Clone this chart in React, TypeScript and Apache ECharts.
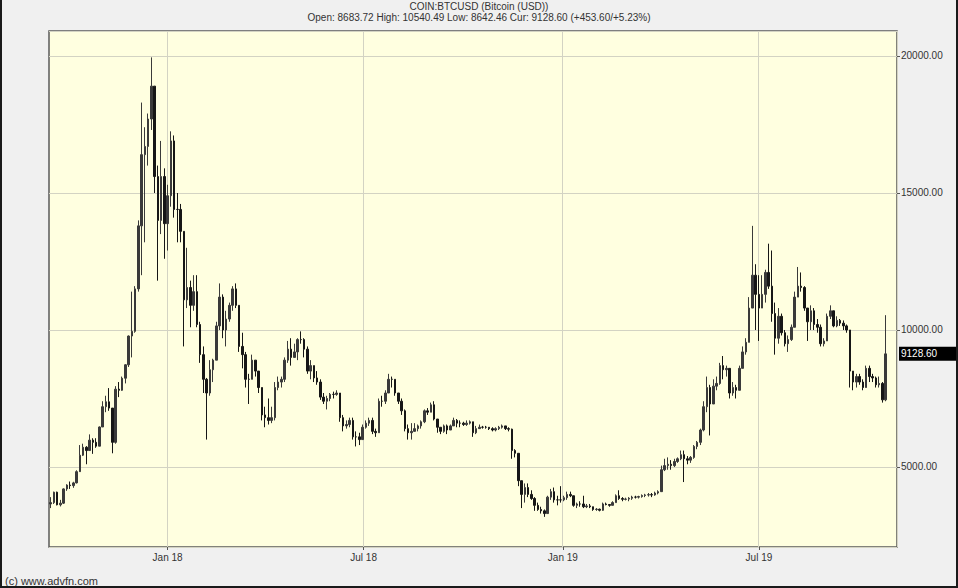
import React, { useEffect, useRef } from "react";
import * as echarts from "echarts";

// ---- data -------------------------------------------------------------
const START_DATE = "2017-09-14";
const END_DATE = "2019-11-05";
const FIRST_BAR_DATE = "2017-09-15";
const BAR_STEP_DAYS = 3;
const FIRST_OPEN = 3650;

// 3-day bars: [low, high, close]
const bars2017: number[][] = [
  [3500, 3900, 3700], [3650, 4100, 4080], [3600, 4100, 3620], [3560, 3800, 3680], [3650, 4220, 4200], [4130, 4370, 4340],
  [4200, 4470, 4320], [4240, 4460, 4420], [4400, 4880, 4830], [4820, 5800, 5430], [5400, 5850, 5720], [5100, 5760, 5600], [5600, 6190, 5980], [5480, 6050, 5900], [5700, 6050, 5760], [6080, 6480, 6460],
  [6600, 7400, 7200], [7000, 7600, 7380], [7050, 7880, 7150], [5500, 7150, 5900], [5850, 7950, 7840], [7550, 8100, 7800], [7780, 8300, 8240], [8050, 8750, 8730], [8650, 9800, 9780], [9000, 11400, 9950],
  [9900, 11600, 11500], [11400, 14000, 13800], [12000, 18300, 16400], [13200, 17400, 16700], [16000, 17900, 17700], [17300, 19950, 18900], [15000, 18900, 15600], [11800, 16000, 14000], [13500, 16900, 15600], [12600, 15900, 13880],
];

const bars2018: number[][] = [
  [12900, 15300, 14900], [14500, 17250, 16900], [14100, 17100, 14400], [13200, 15000, 14400], [13200, 14600, 13600], [9400, 13600, 11100], [10800, 13000, 11550], [10100, 11800, 10900], [10700, 12000, 11400], [10100, 12000, 10200], [8800, 10300, 9100],
  [7700, 9400, 8200], [6000, 8250, 7700], [7600, 8900, 8550], [8100, 8950, 8900], [9100, 10300, 10150], [10000, 11700, 11200], [9700, 11300, 10000], [9400, 10700, 10400], [10300, 11000, 10900],
  [10700, 11600, 11500], [10800, 11700, 10900], [9200, 10900, 9400], [8600, 9900, 9100], [7900, 9200, 8200], [7300, 8400, 8200], [8200, 9100, 8900], [8300, 8900, 8500], [7700, 8500, 7900], [6700, 7700, 6900],
  [6450, 7200, 6800], [6550, 7500, 6700], [6600, 7200, 6800], [6700, 8100, 7900], [7800, 8300, 8100], [7900, 8300, 8200], [8100, 9000, 8900], [8800, 9600, 9300], [8700, 9700, 9000], [9100, 9500, 9200],
  [8900, 9700, 9650], [9500, 9950, 9650], [9000, 9700, 9300], [8400, 9400, 8500], [8200, 8900, 8700], [8100, 8500, 8250], [8000, 8500, 8100], [7450, 8200, 7550], [7300, 7700, 7400], [7100, 7600, 7500], [7400, 7700, 7650],
  [7500, 7750, 7650], [7600, 7800, 7700], [6650, 7700, 6800], [6300, 6900, 6500], [6400, 6700, 6550], [6450, 6800, 6700], [6000, 6800, 6100], [5750, 6300, 6100], [5800, 6250, 6000], [6200, 6550, 6450],
  [6400, 6700, 6600], [6500, 6800, 6700], [6200, 6800, 6300], [6100, 6400, 6250], [6300, 7500, 7400], [7200, 7600, 7400], [7300, 7800, 7700], [7750, 8400, 8200], [7900, 8300, 8200], [7600, 8200, 7700],
  [7300, 7700, 7400], [6900, 7500, 7050], [6300, 7100, 6400], [6000, 6550, 6250], [6000, 6600, 6300], [6300, 6600, 6400], [6300, 6550, 6500], [6400, 6700, 6650], [6600, 7100, 7050], [6900, 7150, 7000],
  [7000, 7350, 7270], [6700, 7400, 6750], [6250, 6700, 6450], [6200, 6450, 6300], [6250, 6550, 6500], [6200, 6550, 6350], [6350, 6550, 6500], [6500, 6800, 6700], [6450, 6750, 6600], [6450, 6700, 6600],
  [6500, 6650, 6550], [6500, 6700, 6600], [6550, 6700, 6650], [6100, 6650, 6250], [6200, 6500, 6400], [6400, 6550, 6450], [6400, 6500, 6450], [6400, 6500, 6450], [6350, 6450, 6400], [6300, 6450, 6350], [6300, 6450, 6400],
  [6350, 6500, 6450], [6400, 6550, 6500], [6350, 6500, 6400], [6300, 6450, 6380], [5300, 6400, 5600], [5350, 5650, 5500], [4300, 5500, 4500], [3500, 4500, 4000], [3700, 4400, 4250], [3900, 4400, 4000],
  [3800, 4150, 3850], [3400, 3900, 3600], [3400, 3700, 3450], [3300, 3550, 3400], [3180, 3450, 3300], [3350, 3950, 3900], [3800, 4200, 4100], [3700, 4250, 3800], [3600, 3950, 3800], [3700, 4300, 3800],
];

const bars2019: number[][] = [
  [3750, 3950, 3880], [3800, 4100, 4000], [3900, 4100, 3950], [3550, 3950, 3600], [3500, 3700, 3650], [3550, 3750, 3650], [3500, 3950, 3550], [3500, 3650, 3580], [3500, 3650, 3550], [3400, 3550, 3450],
  [3400, 3500, 3460], [3380, 3480, 3420], [3400, 3700, 3650], [3600, 3700, 3630], [3550, 3650, 3600], [3600, 3750, 3700], [3700, 4000, 3950], [3800, 4150, 3850], [3750, 3900, 3820], [3780, 3880, 3830],
  [3750, 3900, 3860], [3800, 3950, 3900], [3850, 3950, 3900], [3850, 3950, 3920], [3880, 4000, 3960], [3900, 4020, 3980], [3920, 4050, 3990], [3900, 4050, 3980], [3950, 4100, 4050], [4000, 4150, 4100],
  [4100, 5050, 4900], [4850, 5300, 5050], [4900, 5350, 5100], [4900, 5250, 5050], [5000, 5300, 5200], [5150, 5350, 5300], [5250, 5600, 5450], [4450, 5600, 5300], [5100, 5400, 5250], [5150, 5400, 5350],
  [5300, 5800, 5750], [5650, 5950, 5900], [5800, 6400, 6350], [6300, 7400, 7200], [7000, 8300, 7900], [6150, 8000, 7300], [7500, 8200, 7950], [7800, 8300, 8050], [8000, 8800, 8700], [8200, 9050, 8550],
  [8300, 8700, 8600], [7500, 8200, 7700], [7600, 8100, 7900], [7500, 8000, 7800], [8000, 8700, 8600], [8600, 9400, 9200], [9100, 9700, 9550], [9600, 11200, 10800], [10800, 13800, 12000], [10000, 12400, 11300],
  [9600, 12000, 10800], [10800, 12000, 11300], [11000, 12200, 12100], [11500, 13150, 11600], [10300, 12900, 10600], [9100, 11000, 9700], [9500, 10800, 10500], [9800, 10600, 9900], [9400, 10000, 9500], [9200, 9800, 9650], [9600, 10200, 10100],
  [10500, 11400, 11200], [11200, 12300, 11600], [11400, 12100, 11550], [10700, 11600, 10800], [9600, 10700, 10300], [10000, 10900, 10700], [10000, 10800, 10200], [9900, 10400, 10100], [9400, 10200, 9500], [9400, 9700, 9600],
  [9600, 10600, 10500], [10400, 10900, 10700], [10100, 10700, 10150], [10100, 10500, 10350], [10150, 10400, 10250], [10000, 10350, 10150], [9900, 10200, 10000], [7900, 10000, 8500], [7800, 8400, 8100], [7900, 8400, 8300],
  [8000, 8400, 8100], [7800, 8200, 7900], [7900, 8700, 8600], [8100, 8700, 8300], [8100, 8400, 8250], [7900, 8300, 8000], [7900, 8300, 8050], [7350, 8100, 7450], [7400, 10540.49, 9128.6],
];

const TITLE_LINE = "COIN:BTCUSD (Bitcoin (USD))";
const QUOTE_LINE = "Open: 8683.72 High: 10540.49 Low: 8642.46 Cur: 9128.60 (+453.60/+5.23%)";
const LAST_PRICE = 9128.6;
const COPYRIGHT = "(c) www.advfn.com";
const MONTH_NAMES = ["Jan", "Feb", "Mar", "Apr", "May", "Jun", "Jul", "Aug", "Sep", "Oct", "Nov", "Dec"];
const LABEL_MONTH_DAYS = ["-01-01", "-07-01"];
const Y_MIN = 2080;
const Y_MAX = 20912;

// ---- helpers -----------------------------------------------------------
function dayList(start: string, end: string): string[] {
  const out: string[] = [];
  const [sy, sm, sd] = start.split("-").map(Number);
  const [ey, em, ed] = end.split("-").map(Number);
  let t = Date.UTC(sy, sm - 1, sd);
  const te = Date.UTC(ey, em - 1, ed);
  while (t <= te) {
    out.push(new Date(t).toISOString().slice(0, 10));
    t += 86400000;
  }
  return out;
}

const FONT = '"Liberation Sans", Arial, Helvetica, sans-serif';

export default function App() {
  const ref = useRef<HTMLDivElement>(null);

  useEffect(() => {
    if (!ref.current) return;
    const chart = echarts.init(ref.current, undefined, { renderer: "svg" });

    const categories = dayList(START_DATE, END_DATE);
    const firstIdx = categories.indexOf(FIRST_BAR_DATE);
    const allBars = [...bars2017, ...bars2018, ...bars2019];
    const candleData: any[] = categories.map(() => "-");
    let prevClose = FIRST_OPEN;
    allBars.forEach(([lo, hi, cl], k) => {
      const open = prevClose;
      candleData[firstIdx + k * BAR_STEP_DAYS] = [
        open,
        cl,
        Math.min(lo, open, cl),
        Math.max(hi, open, cl),
      ];
      prevClose = cl;
    });

    const isLabelDay = (_i: number, v: string) =>
      LABEL_MONTH_DAYS.some((s) => String(v).endsWith(s));

    const option: any = {
      animation: false,
      backgroundColor: "#F0F0F0",
      textStyle: { fontFamily: FONT },
      title: {
        text: TITLE_LINE,
        subtext: QUOTE_LINE,
        left: "center",
        top: 1,
        padding: 0,
        itemGap: 0,
        textStyle: { fontSize: 10, fontWeight: "normal", color: "#333", fontFamily: FONT, lineHeight: 11 },
        subtextStyle: { fontSize: 10, color: "#333", fontFamily: FONT, lineHeight: 11 },
      },
      grid: {
        left: 49,
        right: 61,
        top: 31,
        bottom: 41,
        show: true,
        backgroundColor: "#FFFFE0",
        borderColor: "#5a5a5a",
        borderWidth: 1.5,
        containLabel: false,
        outerBoundsMode: "none",
      },
      xAxis: {
        type: "category",
        data: categories,
        boundaryGap: true,
        axisLine: { show: false },
        axisTick: {
          show: true,
          interval: isLabelDay,
          alignWithLabel: true,
          length: 3,
          lineStyle: { color: "#555" },
        },
        axisLabel: {
          interval: isLabelDay,
          color: "#333",
          fontSize: 10,
          fontFamily: FONT,
          margin: 5,
          formatter: (v: string) => {
            const m = Number(v.slice(5, 7)) - 1;
            return `${MONTH_NAMES[m]} ${v.slice(2, 4)}`;
          },
        },
        splitLine: {
          show: true,
          interval: isLabelDay,
          lineStyle: { color: "#D3D3C3", width: 1 },
        },
      },
      yAxis: {
        type: "value",
        position: "right",
        min: Y_MIN,
        max: Y_MAX,
        splitNumber: 4,
        axisLine: { show: false },
        axisTick: { show: true, length: 3, lineStyle: { color: "#555" } },
        axisLabel: {
          color: "#333",
          fontSize: 10,
          fontFamily: FONT,
          margin: 4,
          showMinLabel: false,
          showMaxLabel: false,
          formatter: (v: number) => v.toFixed(2),
        },
        splitLine: { show: true, lineStyle: { color: "#D3D3C3", width: 1 } },
      },
      series: [
        {
          type: "candlestick",
          data: candleData,
          large: false,
          clip: false,
          barWidth: 2,
          silent: true,
          itemStyle: {
            color: "#3a3a3a",
            color0: "#161616",
            borderColor: "#3a3a3a",
            borderColor0: "#161616",
            borderWidth: 1,
          },
          markLine: {
            silent: true,
            symbol: ["none", "none"],
            lineStyle: { color: "rgba(0,0,0,0)", width: 0, type: "solid" },
            data: [{ yAxis: LAST_PRICE }],
            label: {
              show: true,
              position: "end",
              distance: 2,
              formatter: () => LAST_PRICE.toFixed(2),
              backgroundColor: "#000",
              color: "#fff",
              opacity: 1,
              fontSize: 10,
              fontFamily: FONT,
              padding: [2, 19, 2, 2],
            },
          },
        },
      ],
      graphic: [
        {
          type: "text",
          left: 5,
          top: 575,
          style: { text: COPYRIGHT, fontSize: 11, fontFamily: FONT, fill: "#333" },
        },
      ],
    };

    chart.setOption(option);
    return () => chart.dispose();
  }, []);

  return (
    <div style={{ position: "fixed", left: 0, top: 0, width: 958, height: 588, background: "#F0F0F0" }}>
      <div ref={ref} style={{ position: "absolute", left: 0, top: 0, width: 958, height: 588 }} />
      <div
        style={{
          position: "absolute",
          left: 0,
          top: 0,
          width: 958,
          height: 588,
          boxSizing: "border-box",
          borderLeft: "2px solid #1a1a1a",
          borderRight: "2px solid #1a1a1a",
          borderBottom: "2px solid #1a1a1a",
          pointerEvents: "none",
        }}
      />
    </div>
  );
}
